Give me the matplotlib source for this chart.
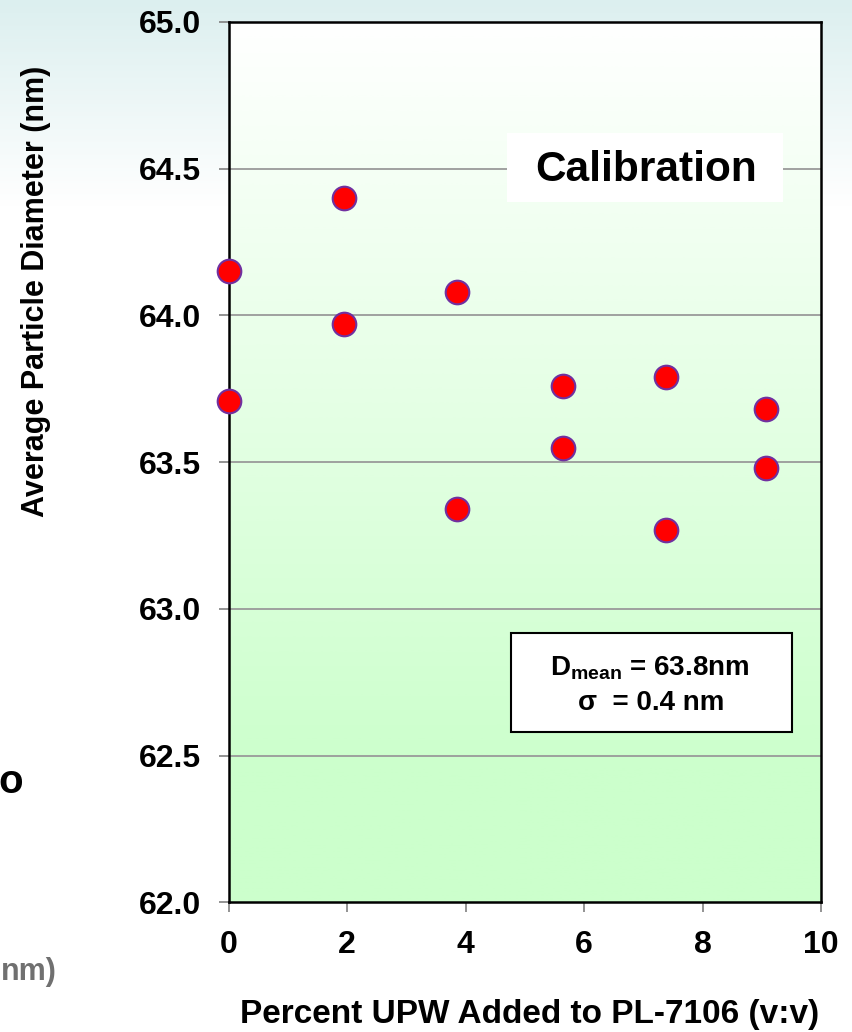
import numpy as np
import matplotlib.pyplot as plt
from matplotlib.colors import LinearSegmentedColormap
from matplotlib.patches import Rectangle

plt.rcParams['font.family'] = ['Liberation Sans', 'DejaVu Sans']
plt.rcParams['font.weight'] = 'bold'
plt.rcParams['mathtext.fontset'] = 'custom'
plt.rcParams['mathtext.rm'] = 'Liberation Sans:bold'
plt.rcParams['mathtext.bf'] = 'Liberation Sans:bold'

# data
pct_upw = [0, 0, 1.95, 1.95, 3.85, 3.85, 5.65, 5.65, 7.39, 7.39, 9.08, 9.08]
diameter = [64.15, 63.71, 64.40, 63.97, 64.08, 63.34,
            63.76, 63.55, 63.79, 63.27, 63.68, 63.48]
x_ticks = [0, 2, 4, 6, 8, 10]
y_ticks = [62.0, 62.5, 63.0, 63.5, 64.0, 64.5, 65.0]
d_mean = 63.8
sigma = 0.4

fig = plt.figure(figsize=(8.52, 10.32), dpi=100)

# slide background: pale teal fading to white
bg = fig.add_axes([0, 0, 1, 1], zorder=-10)
ramp = np.clip(np.linspace(0, 1, 1032) / 0.2, 0, 1)
bg.imshow(ramp[:, None], aspect='auto', extent=[0, 1, 0, 1],
          cmap=LinearSegmentedColormap.from_list('bg', ['#dcefef', '#ffffff']))
bg.set_xlim(0, 1)
bg.set_ylim(0, 1)
bg.axis('off')

ax = fig.add_axes([0.2684, 0.1255, 0.6952, 0.8532])

# plot area: white on top to light green at the bottom
grad = np.clip(np.linspace(0, 1, 600) / 0.85, 0, 1)
ax.imshow(grad[:, None], aspect='auto', extent=[0, 10, 62, 65], zorder=0,
          cmap=LinearSegmentedColormap.from_list('g', ['#ffffff', '#ccffcc']))

ax.set_xlim(0, 10)
ax.set_ylim(62, 65)
ax.set_xticks(x_ticks)
ax.set_yticks(y_ticks)
ax.set_yticklabels([f'{v:.1f}' for v in y_ticks])
ax.tick_params(direction='out', length=7, width=1.2, color='#808080',
               labelsize=23, pad=13)
for y in y_ticks[1:-1]:
    ax.axhline(y, color='#9a9a9a', lw=1.3, zorder=1)
for s in ax.spines.values():
    s.set_linewidth(1.8)
    s.set_color('black')

ax.scatter(pct_upw, diameter, s=17**2, c='#ff0000', edgecolors='#7030a0',
           linewidths=1.5, zorder=5, clip_on=False)

# "Calibration" label over the 64.5 gridline
ax.add_patch(Rectangle((0.470, 0.7956), 0.466, 0.078, transform=ax.transAxes,
                       facecolor='white', edgecolor='none', zorder=2))
ax.text(0.7045, 0.832, 'Calibration', transform=ax.transAxes, ha='center',
        va='center', fontsize=30.5, zorder=3)

# statistics box
ax.add_patch(Rectangle((0.477, 0.194), 0.474, 0.112, transform=ax.transAxes,
                       facecolor='white', edgecolor='black', lw=1.5, zorder=2))
ax.text(0.711, 0.266, r'D$_{\mathbf{mean}}$' + f' = {d_mean}nm',
        transform=ax.transAxes, ha='center', va='center', fontsize=20, zorder=3)
ax.text(0.713, 0.226, f'\u03c3  = {sigma} nm', transform=ax.transAxes,
        ha='center', va='center', fontsize=20, zorder=3)

fig.text(0.042, 0.718, 'Average Particle Diameter (nm)', rotation=90,
         ha='center', va='center', fontsize=22)
fig.text(0.621, 0.0174, 'Percent UPW Added to PL-7106 (v:v)', ha='center',
         va='center', fontsize=24)

# fragments of neighbouring slide content cut by the crop
fig.text(23 / 852, 1 - 782 / 1032, 'o', ha='right', va='center', fontsize=29)
fig.text(1 / 852, 1 - 972 / 1032, 'nm)', ha='left', va='center',
         fontsize=22, color='#707070')

fig.savefig('out.png', dpi=100)
